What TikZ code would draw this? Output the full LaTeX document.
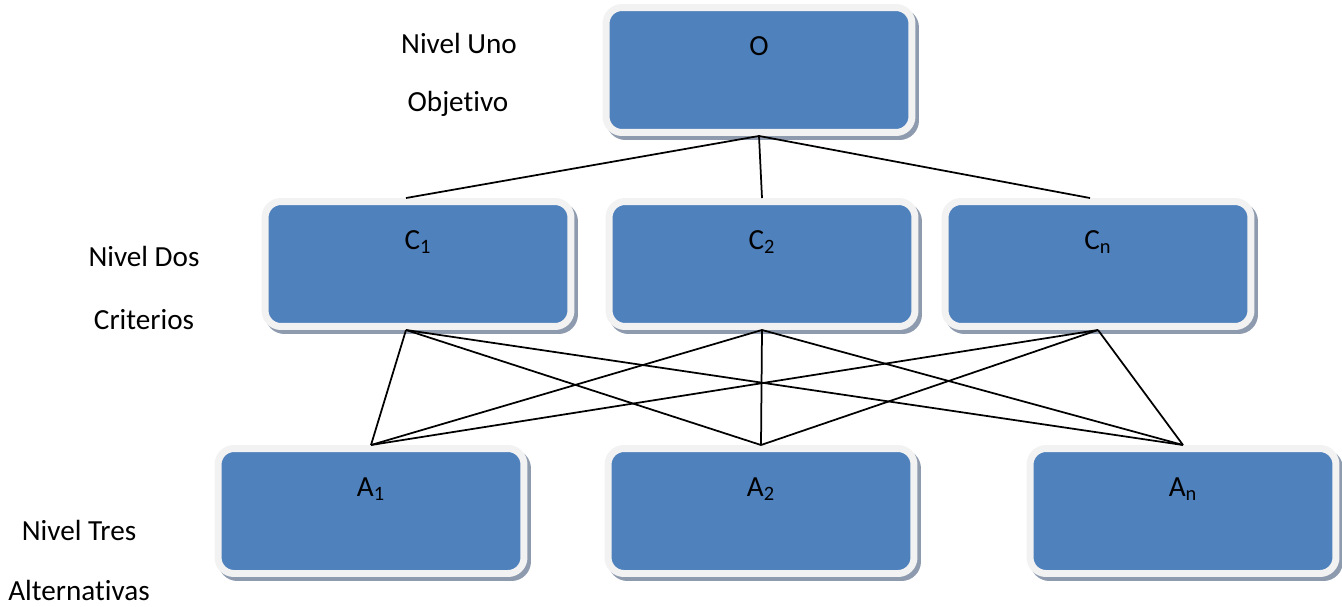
\documentclass[tikz,border=0pt]{standalone}
\usepackage{fontspec}
\setmainfont{Carlito}[Ligatures=NoCommon]
\usetikzlibrary{shadows}
\definecolor{boxblue}{HTML}{4F81BD}
\definecolor{boxrim}{HTML}{F2F2F2}
\definecolor{rimshadow}{HTML}{8E9BAF}
\begin{document}
\begin{tikzpicture}[x=0.02cm, y=-0.02cm,
    level/.style={rectangle, rounded corners=0.32cm, fill=boxblue, draw=boxrim, line width=0.14cm,
      minimum width=6.12cm, minimum height=2.5cm, text height=0.4cm, text depth=1.0cm,
      font=\fontsize{16.6}{19}\selectfont,
      drop shadow={shadow xshift=0.07cm, shadow yshift=-0.08cm, fill=rimshadow, draw=rimshadow, line width=0.14cm, opacity=1}},
    tag/.style={font=\fontsize{16.6}{19}\selectfont, inner sep=0pt},
    link/.style={line width=0.035cm}]
  \useasboundingbox (0,0) rectangle (1342,606);
  \node[level] (O) at (759,70) {O};
  \node[level] (C1) at (418,264) {C\textsubscript{1}};
  \node[level] (C2) at (762,264) {C\textsubscript{2}};
  \node[level] (Cn) at (1098,264) {C\textsubscript{n}};
  \node[level] (A1) at (371,511) {A\textsubscript{1}};
  \node[level] (A2) at (761,511) {A\textsubscript{2}};
  \node[level] (An) at (1183,511) {A\textsubscript{n}};
  \node[tag] (uno) at (459,43) {Nivel Uno};
  \node[tag] (obj) at (458,104) {Objetivo};
  \node[tag] (dos) at (144,256) {Nivel Dos};
  \node[tag] (crit) at (144,320) {Criterios};
  \node[tag] (tres) at (79,530) {Nivel Tres};
  \node[tag] (alt) at (79,590) {Alternativas};
  \draw[link] (O.south) -- ([xshift=-0.24cm]C1.north);
  \draw[link] (O.south) -- (C2.north);
  \draw[link] (O.south) -- ([xshift=-0.16cm]Cn.north);
  \foreach \a in {A1,A2,An} {
    \draw[link] ([xshift=-0.24cm]C1.south) -- (\a.north);
    \draw[link] (C2.south) -- (\a.north);
    \draw[link] (Cn.south) -- (\a.north);
  }
\end{tikzpicture}
\end{document}
